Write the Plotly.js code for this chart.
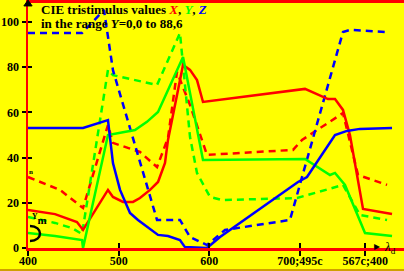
<!DOCTYPE html>
<html><head><meta charset="utf-8">
<script src="https://cdn.plot.ly/plotly-3.0.1.min.js"></script>
<style>html,body{margin:0;padding:0;background:#ffff00;}#c{width:404px;height:271px;}</style>
</head><body><div id="c"></div>
<script>
// Solid curves (tristimulus values)
const xX = [400,429.8,454.0,460.7,488.2,493.7,504.8,515.8,523.5,534.6,543.4,551.1,554.4,564.3,571.0,578.7,586.4,593.0,705.5,730.9,738.6,747.4,755.1,769.5,801.5];
const yX = [16.8,15.0,11.5,8.0,25.7,22.6,20.4,20.4,22.1,25.7,29.2,37.6,47.8,68.6,81.0,78.8,74.3,64.6,70.4,65.9,65.9,61.1,50.0,17.3,15.0];
const xY = [400,429.8,459.6,460.7,488.2,501.5,518.0,531.2,543.4,571.0,593.0,705.5,733.1,738.6,749.6,771.7,801.5];
const yY = [6.6,5.3,3.5,0,50.0,50.9,52.2,55.8,60.2,84.5,38.9,39.4,32.3,33.2,27.9,6.6,5.3];
const xZ = [400,460.7,488.2,493.7,501.5,512.5,521.3,531.2,543.4,554.4,567.6,573.1,589.7,597.4,611.8,697.8,707.7,738.6,751.8,766.1,801.5];
const yZ = [53.1,53.1,56.6,37.6,25.7,15.5,12.4,9.3,5.8,5.3,3.5,0.4,0,0,4.9,29.2,31.4,50.0,51.8,52.7,53.1];
// Dashed curves
const xXd = [400,435.3,460.7,488.2,493.7,523.5,542.3,554.4,564.3,578.7,597.4,692.3,702.2,747.4,764.0,796.0];
const yXd = [31.4,25.7,17.7,54.4,46.5,42.5,35.8,48.7,77.9,63.3,41.2,43.4,47.8,59.7,32.3,27.9];
const xYd = [400,429.8,448.5,459.6,488.2,493.7,542.3,567.6,578.7,586.4,600.7,614.0,696.7,747.4,766.1,796.0];
const yYd = [13.7,11.1,8.8,6.2,78.8,76.5,72.1,95.1,49.1,33.2,22.6,21.2,22.1,27.9,14.6,12.4];
const xZd = [400,459.6,483.8,493.7,542.3,567.6,578.7,597.4,617.3,688.9,747.4,755.1,793.7];
const yZd = [95.1,95.1,105.3,78.7,12.4,12.4,4.9,1.3,8.0,12.4,95.6,96.5,95.6];
// Ticks
const xTickVals = [400,500,600,700,772];
const xTickText = ['400','500','600','700;495c','567c;400'];
const yTickVals = [0,20,40,60,80,100];

const RED='#ff0000', GRN='#00ff00', BLU='#0000ff';
const DASH='7px,5px';
function tr(x,y,c,dash){return {x:x,y:y,mode:'lines',type:'scatter',line:{color:c,width:2.5,dash:dash||'solid'},hoverinfo:'skip',showlegend:false};}
const data=[
 tr(xXd,yXd,RED,DASH), tr(xYd,yYd,GRN,DASH), tr(xZd,yZd,BLU,DASH),
 tr(xX,yX,RED), tr(xY,yY,GRN), tr(xZ,yZ,BLU),
 {x:[400],y:[0],xaxis:'x2',yaxis:'y2',mode:'markers',marker:{opacity:0},hoverinfo:'skip',showlegend:false}
];
const FONT='"Liberation Serif", "Times New Roman", serif';
const XR=[400,814.7], YR=[0,108.4];
const layout={
 width:404,height:271,
 margin:{l:28,r:0,t:3,b:23},
 paper_bgcolor:'#ffff00',plot_bgcolor:'#ffff00',
 showlegend:false,
 font:{family:FONT,size:12,color:'#000'},
 xaxis:{range:XR,showgrid:false,zeroline:false,showline:true,linecolor:RED,linewidth:3,mirror:true,
   tickvals:xTickVals,ticktext:xTickText,ticks:'outside',ticklen:5,tickwidth:2,tickcolor:'#000',
   ticklabelstandoff:-5,
   tickfont:{family:FONT,size:12,weight:'bold'}},
 yaxis:{range:YR,showgrid:false,zeroline:false,showline:true,linecolor:RED,linewidth:2.5,
   tickvals:yTickVals,ticks:'outside',ticklen:4,tickwidth:2,tickcolor:'#000',
   tickfont:{family:FONT,size:12,weight:'bold'}},
 xaxis2:{range:XR,overlaying:'x',side:'bottom',showgrid:false,zeroline:false,showline:false,
   tickvals:xTickVals,showticklabels:false,ticks:'inside',ticklen:5,tickwidth:2,tickcolor:'#000'},
 yaxis2:{range:YR,overlaying:'y',side:'left',showgrid:false,zeroline:false,showline:false,
   tickvals:yTickVals,showticklabels:false,ticks:'inside',ticklen:4,tickwidth:2,tickcolor:'#000'},
 annotations:[
  {xref:'paper',yref:'paper',x:0.032,y:1.0,xanchor:'left',yanchor:'top',yshift:2,showarrow:false,borderpad:0,
   font:{family:FONT,size:13,weight:'bold',color:'#000'},
   text:'CIE tristimulus values <i><span style="color:#ff0000">X</span></i>, <i><span style="color:#00ff00">Y</span></i>, <i><span style="color:#0000ff">Z</span></i>'},
  {xref:'paper',yref:'paper',x:0.032,y:1.0,xanchor:'left',yanchor:'top',yshift:-12,showarrow:false,borderpad:0,
   font:{family:FONT,size:13,weight:'bold',color:'#000'},
   text:'in the range <i>Y</i>=0,0 to 88,6'},
  {xref:'paper',yref:'paper',x:0.915,y:0,xanchor:'left',yanchor:'middle',yshift:2,showarrow:false,
   font:{family:FONT,size:12,color:'#000'},text:'▸'},
  {xref:'paper',yref:'paper',x:0.942,y:0,xanchor:'left',yanchor:'middle',yshift:1,showarrow:false,
   font:{family:FONT,size:13,color:'#000'},text:'<i>λ</i><sub>d</sub>'},
  {xref:'paper',yref:'paper',x:0.0,y:0.31,xanchor:'left',yanchor:'middle',showarrow:false,borderpad:0,
   font:{family:FONT,size:7,weight:'bold',color:'#000'},text:'n'},
  {xref:'paper',yref:'paper',x:0.008,y:0.12,xanchor:'left',yanchor:'middle',showarrow:false,borderpad:0,
   font:{family:FONT,size:11,weight:'bold',color:'#000'},text:'<sup>Y</sup>m'}
 ],
 shapes:[
  {type:'path',xref:'paper',yref:'paper',layer:'above',
   path:'M 0.0053 0.0898 C 0.0408 0.0898, 0.0408 0.0286, 0.0053 0.0286',
   line:{color:'#000',width:2.5}},
  {type:'path',xref:'paper',yref:'paper',layer:'above',
   path:'M 0 1.012 L -0.011 0.988 L 0.011 0.988 Z',fillcolor:'#000',line:{color:'#000',width:1}},
  {type:'line',xref:'paper',yref:'paper',x0:-0.08,x1:1,y0:-0.0898,y1:-0.0898,line:{color:'#c08000',width:1.5}}
 ]
};
Plotly.newPlot('c',data,layout,{staticPlot:true,displayModeBar:false});
</script></body></html>
